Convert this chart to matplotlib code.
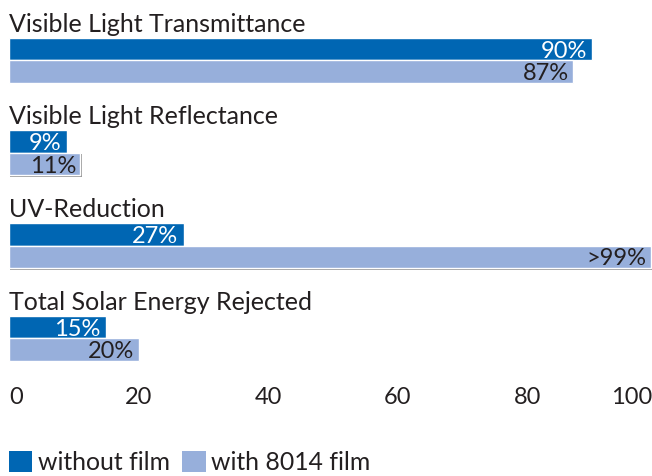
import matplotlib
matplotlib.use("Agg")
import matplotlib.pyplot as plt
from matplotlib.patches import Patch
import matplotlib.patheffects as pe

categories = ["Visible Light Transmittance", "Visible Light Reflectance",
              "UV-Reduction", "Total Solar Energy Rejected"]
without_film = [90, 9, 27, 15]
with_film = [87, 11, 99, 20]
without_labels = ["90%", "9%", "27%", "15%"]
with_labels = ["87%", "11%", ">99%", "20%"]
series_names = ["without film", "with 8014 film"]
tick_values = [0, 20, 40, 60, 80, 100]

DARK = "#0066b3"
LIGHT = "#97afdb"
TEXT = "#231f20"
FONT = "Lato"
FS = 17

plt.rcParams["font.family"] = [FONT, "DejaVu Sans"]

W, H = 652, 476
fig = plt.figure(figsize=(W / 100, H / 100), dpi=100)
left_px = 9
px_per_unit = 6.48
ax = fig.add_axes([left_px / W, 0, (W - left_px) / W, 1])
ax.set_xlim(0, (W - left_px) / px_per_unit)
ax.set_ylim(H, 0)
ax.axis("off")

first_center = 49
spacing = 92.7
bar_h = 22.5
shadow = [pe.SimplePatchShadow(offset=(1, -1), shadow_rgbFace="#555555", alpha=0.6), pe.Normal()]

for i, cat in enumerate(categories):
    yc = first_center + i * spacing
    b1 = ax.barh(yc, without_film[i], height=bar_h, color=DARK, edgecolor="white", linewidth=1)
    b2 = ax.barh(yc + bar_h, with_film[i], height=bar_h, color=LIGHT, edgecolor="white",
                 linewidth=1)
    for p in b2:
        p.set_path_effects(shadow)
    ax.annotate(without_labels[i], (without_film[i], yc), xytext=(-4, 0),
                textcoords="offset points", ha="right", va="center_baseline",
                color="white", fontsize=FS)
    ax.annotate(with_labels[i], (with_film[i], yc + bar_h), xytext=(-3, 0),
                textcoords="offset points", ha="right", va="center_baseline",
                color=TEXT, fontsize=FS)
    ax.text(0, yc - bar_h / 2 - 6, cat, ha="left", va="baseline", color=TEXT,
            fontsize=FS + 1)

xmax = ax.get_xlim()[1]
for j, t in enumerate(tick_values):
    if j == 0:
        ax.text(t, 404, str(t), ha="left", va="baseline", color=TEXT, fontsize=FS)
    elif j == len(tick_values) - 1:
        ax.text(xmax, 404, str(t), ha="right", va="baseline", color=TEXT, fontsize=FS)
    else:
        ax.text(t, 404, str(t), ha="center", va="baseline", color=TEXT, fontsize=FS)

LFS = 17.8
handles = [Patch(facecolor=DARK), Patch(facecolor=LIGHT)]
fig.legend(handles, series_names, loc="upper left", bbox_to_anchor=(left_px / W, 1 - 451 / H),
           frameon=False, ncol=2, fontsize=LFS, handlelength=0.95, handleheight=0.95,
           handletextpad=0.22, columnspacing=0.5, borderpad=0, borderaxespad=0,
           labelcolor=TEXT)

fig.savefig("out.png", dpi=100)
